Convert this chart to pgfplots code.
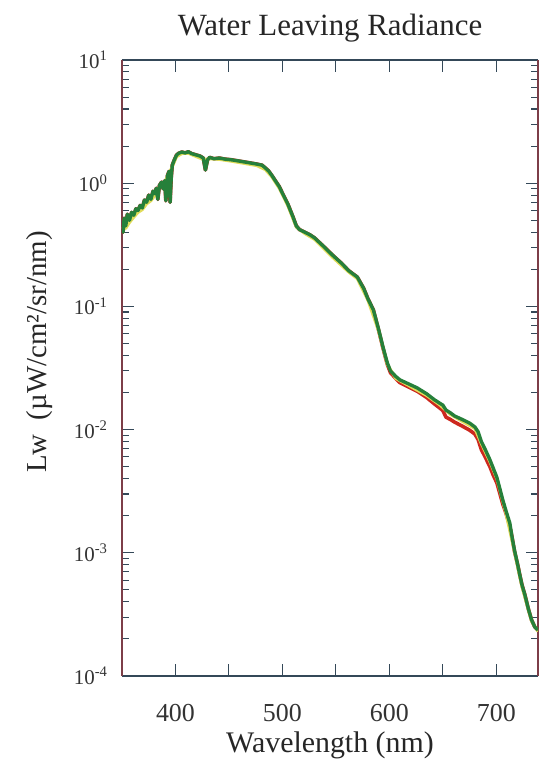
\documentclass[border=0pt]{standalone}
\usepackage{pgfplots}
\pgfplotsset{compat=1.18}
\usepackage{fontspec}
\setmainfont{Liberation Serif}

\definecolor{frame}{RGB}{52,72,88}
\definecolor{leftframe}{RGB}{125,62,72}
\definecolor{lwgreen}{RGB}{38,128,58}
\definecolor{lwred}{RGB}{205,40,30}
\definecolor{lwyellow}{RGB}{225,220,90}

\begin{document}
\begin{tikzpicture}
\begin{axis}[
  name=ax,
  scale only axis,
  width=416bp, height=616bp,
  xmin=350, xmax=739,
  ymode=log, ymin=1e-4, ymax=10,
  separate axis lines,
  axis x line*=box, axis y line*=box,
  x axis line style={frame, line width=1.1bp},
  y axis line style={leftframe, line width=1.1bp},
  tick style={frame, line width=1.1bp},
  major tick length=12bp,
  minor tick length=7bp,
  tick align=inside,
  xtick={400,450,500,550,600,650,700},
  xticklabels={400,,500,,600,,700},
  ytick={1e-4,1e-3,1e-2,1e-1,1,10},
  yticklabels={10\textsuperscript{-4},10\textsuperscript{-3},10\textsuperscript{-2},10\textsuperscript{-1},10\textsuperscript{0},10\textsuperscript{1}},
  xticklabel style={font=\fontsize{26}{30}\selectfont, anchor=base, yshift=-45bp, text=black!80},
  yticklabel style={font=\fontsize{21}{25}\selectfont, anchor=east, xshift=-11bp, text=black!80},
  title={Water Leaving Radiance},
  title style={font=\fontsize{31}{36}\selectfont, at={(axis description cs:0.5,1)}, anchor=base, yshift=19bp, text=black!85},
  xlabel={Wavelength (nm)},
  xlabel style={font=\fontsize{30}{36}\selectfont, at={(axis description cs:0.5,0)}, anchor=base, yshift=-76bp, text=black!85},
  ylabel={Lw\ \ (µW/cm²/sr/nm)},
  ylabel style={font=\fontsize{29}{34}\selectfont, at={(axis description cs:0,0.5)}, anchor=center, xshift=16bp, yshift=82bp, text=black!85},
  clip=true,
]
% red spectrum (slightly lower in the red/NIR range)
\addplot[lwred, line width=3.6bp, line join=round] coordinates {
(350,0.46)(351,0.40)(352,0.52)(353.5,0.45)(355,0.56)(357,0.50)(359,0.58)(361,0.55)(363,0.62)(365,0.60)(367,0.66)(369,0.63)(371,0.73)(373,0.70)(375,0.80)(377,0.74)(379,0.86)(381,0.82)(382,0.91)(383.5,0.74)(385,0.96)(387,1.02)(388.5,0.90)(390,1.05)(391,0.72)(392.5,1.15)(394,1.25)(395,0.70)(396,1.10)(397,1.40)(399,1.55)(401,1.69)(403,1.75)(406,1.79)(409,1.76)(412,1.80)(415,1.74)(419,1.70)(423,1.66)(426,1.60)(428,1.28)(430,1.55)(432,1.62)(436,1.58)(441,1.60)(446,1.57)(452,1.55)(458,1.52)(464,1.49)(470,1.46)(476,1.43)(481,1.40)(484,1.33)(487,1.26)(490,1.16)(493,1.06)(497,0.94)(500,0.83)(505,0.68)(510,0.53)(513,0.45)(516,0.42)(521,0.40)(526,0.38)(530,0.36)(538,0.31)(547,0.26)(555,0.225)(562,0.195)(570,0.173)(576,0.14)(580,0.115)(585,0.094)(590,0.064)(594,0.046)(598,0.034)(601,0.029)(606,0.026)(610,0.0240)(618,0.0222)(626,0.0205)(635,0.0182)(642,0.0162)(647,0.0150)(650,0.0143)(653,0.0126)(657,0.0121)(661,0.0115)(668,0.0107)(675,0.0099)(680,0.0092)(683,0.0083)(686,0.0069)(690,0.0059)(694,0.0050)(697,0.0043)(700.5,0.0037)(703,0.0031)(706,0.0025)(709,0.0021)(712.6,0.00165)(715,0.0013)(717,0.00103)(720,0.00080)(722,0.00066)(724,0.00055)(726.6,0.00046)(730,0.00035)(733,0.000285)(736,0.00025)(739,0.000236)
};
% yellow spectrum
\addplot[lwyellow, line width=3.0bp, line join=round] coordinates {
(350,0.44)(353.5,0.43)(357,0.48)(361,0.53)(365,0.58)(369,0.61)(373,0.68)(377,0.72)(381,0.80)(385,0.93)(390,1.02)(394,1.21)(397,1.36)(401,1.64)(406,1.74)(412,1.75)(419,1.65)(426,1.56)(432,1.58)(441,1.56)(452,1.51)(464,1.45)(476,1.39)(484,1.29)(490,1.13)(497,0.91)(505,0.66)(513,0.44)(521,0.39)(530,0.35)(547,0.25)(562,0.19)(570,0.168)(580,0.112)(590,0.063)(598,0.034)(606,0.026)(618,0.0228)(635,0.0189)(647,0.0159)(657,0.0133)(668,0.0117)(680,0.0102)(686,0.0077)(694,0.0055)(700.5,0.0040)(709,0.0021)(717,0.00102)(724,0.00053)(733,0.000278)(739,0.000230)
};
% green spectrum
\addplot[lwgreen, line width=3.4bp, line join=round] coordinates {
(350,0.46)(351,0.40)(352,0.52)(353.5,0.45)(355,0.56)(357,0.50)(359,0.58)(361,0.55)(363,0.62)(365,0.60)(367,0.66)(369,0.63)(371,0.73)(373,0.70)(375,0.80)(377,0.74)(379,0.86)(381,0.82)(382,0.91)(383.5,0.74)(385,0.96)(387,1.02)(388.5,0.90)(390,1.05)(391,0.72)(392.5,1.15)(394,1.25)(395,0.70)(396,1.10)(397,1.40)(399,1.55)(401,1.69)(403,1.75)(406,1.79)(409,1.76)(412,1.80)(415,1.74)(419,1.70)(423,1.66)(426,1.60)(428,1.28)(430,1.55)(432,1.62)(436,1.58)(441,1.60)(446,1.57)(452,1.55)(458,1.52)(464,1.49)(470,1.46)(476,1.43)(481,1.40)(484,1.33)(487,1.26)(490,1.16)(493,1.06)(497,0.94)(500,0.83)(505,0.68)(510,0.53)(513,0.45)(516,0.42)(521,0.40)(526,0.38)(530,0.36)(538,0.31)(547,0.26)(555,0.225)(562,0.195)(570,0.173)(576,0.14)(580,0.115)(585,0.094)(590,0.065)(594,0.047)(598,0.035)(601,0.030)(606,0.027)(610,0.0253)(618,0.0235)(626,0.0218)(635,0.0195)(642,0.0175)(647,0.0164)(650,0.0158)(653,0.0144)(657,0.0137)(661,0.0129)(668,0.0121)(675,0.0113)(680,0.0105)(683,0.0096)(686,0.0080)(690,0.0068)(694,0.0057)(697,0.0049)(700.5,0.0041)(703,0.0034)(706,0.0027)(709,0.0022)(712.6,0.00175)(715,0.0013)(717,0.00105)(720,0.00080)(722,0.00066)(724,0.00055)(726.6,0.00046)(730,0.00035)(733,0.000285)(736,0.00025)(739,0.000236)
};
\end{axis}
\path[use as bounding box] ([xshift=-122bp,yshift=-86bp]ax.south west) rectangle ([yshift=60bp]ax.north east);
\end{tikzpicture}
\end{document}
